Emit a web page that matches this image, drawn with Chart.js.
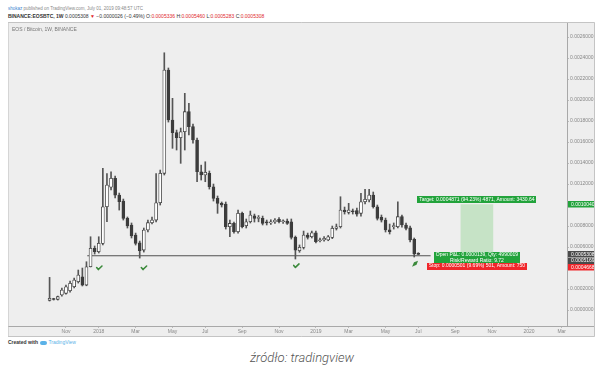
<!DOCTYPE html>
<html>
<head>
<meta charset="utf-8">
<script src="https://cdn.jsdelivr.net/npm/chart.js@4.4.0/dist/chart.umd.min.js"></script>
<style>
  body { margin: 0; width: 604px; height: 372px; background: #fff; position: relative; overflow: hidden;
         font-family: "Liberation Sans", Arial, sans-serif; }
  .hdr { position: absolute; left: 8px; white-space: nowrap; line-height: 6px; }
  #h1 { top: 6px; font-size: 4.5px; color: #888; }
  #h2 { top: 13px; font-size: 5px; color: #333; }
  #h2 .r { color: #e0272b; }
  #cv { position: absolute; left: 8px; top: 22px; }
  #made { position: absolute; left: 8px; top: 339px; font-size: 5px; color: #333; font-weight: bold; white-space: nowrap; }
  #made .logo { display: inline-block; width: 7px; height: 4px; border-radius: 2px; background: #5bb2e8; vertical-align: middle; margin: 0 1px; }
  #made .tv { color: #5bb2e8; font-weight: normal; }
  #src { position: absolute; left: 0; width: 604px; top: 350px; text-align: center; font-family: Roboto, sans-serif;
         font-style: italic; font-weight: 300; font-size: 13px; color: #555; }
</style>
</head>
<body>
<div class="hdr" id="h1"><span style="color:#3b86d1">shokaz</span> published on TradingView.com, July 01, 2019 09:48:57 UTC</div>
<div class="hdr" id="h2"><b>BINANCE:EOSBTC, 1W</b> 0.0005308 <span class="r">&#9660;</span> &minus;0.0000026 (&minus;0.49%) O:<span class="r">0.0005336</span> H:<span class="r">0.0005460</span> L:<span class="r">0.0005283</span> C:<span class="r">0.0005308</span></div>
<canvas id="cv" width="587" height="315"></canvas>
<div id="made">Created with <span class="logo"></span><span class="tv">TradingView</span></div>
<div id="src">źródło: tradingview</div>
<script>
// weekly bars, index 0 = week of 2017-10-09, last = week of 2019-07-01
const openP = [0.0000924,0.000108,0.000102,0.000143,0.000159,0.000184,0.000222,0.000270,0.000317,0.000238,
  0.000412,0.000588,0.000555,0.000635,0.000984,0.001170,0.001254,0.001095,0.001038,0.000873,
  0.000810,0.000714,0.000641,0.000571,0.000762,0.000832,0.000857,0.001022,0.001302,0.002286,
  0.001810,0.001689,0.001641,0.001698,0.001889,0.001746,0.001619,0.001317,0.001286,0.001302,
  0.001174,0.001063,0.001016,0.001010,0.000793,0.000825,0.000746,0.000921,0.000803,0.000841,
  0.000898,0.000873,0.000873,0.000841,0.000829,0.000838,0.000864,0.000841,0.000848,0.000841,
  0.000692,0.000565,0.000597,0.000714,0.000698,0.000736,0.000660,0.000667,0.000667,0.000692,
  0.000778,0.000793,0.000952,0.000930,0.000940,0.000946,0.000921,0.001031,0.001048,0.001095,
  0.000984,0.000883,0.000857,0.000765,0.000795,0.000793,0.000889,0.000810,0.000784,0.000673,
  0.0005336];
const highP = [0.000311,0.000112,0.000133,0.000210,0.000238,0.000276,0.000305,0.000381,0.000400,0.000460,
  0.000698,0.000610,0.000698,0.001350,0.001300,0.001317,0.001276,0.001114,0.001057,0.000886,
  0.000829,0.000733,0.000657,0.000781,0.000857,0.000886,0.001300,0.001333,0.002450,0.002305,
  0.002016,0.001714,0.001733,0.002064,0.001968,0.001771,0.001638,0.001380,0.001412,0.001324,
  0.001200,0.001086,0.001029,0.001029,0.000857,0.000838,0.000952,0.000933,0.000867,0.000943,
  0.000914,0.000900,0.000895,0.000857,0.000860,0.000870,0.000880,0.000860,0.000867,0.000867,
  0.000705,0.000620,0.000752,0.000733,0.000752,0.000752,0.000686,0.000700,0.000710,0.000800,
  0.000819,0.001079,0.000981,0.001016,0.000962,0.000971,0.001111,0.001150,0.001150,0.001124,
  0.001000,0.000905,0.000876,0.000819,0.000829,0.001031,0.000905,0.000829,0.000800,0.000686,
  0.000546];
const lowP = [0.0000857,0.000095,0.000095,0.000133,0.000152,0.000171,0.000210,0.000257,0.000229,0.000231,
  0.000410,0.000533,0.000543,0.000619,0.000841,0.001143,0.001067,0.000952,0.000857,0.000781,
  0.000686,0.000619,0.000495,0.000552,0.000743,0.000819,0.000838,0.001000,0.001286,0.001790,
  0.001540,0.001524,0.001397,0.001524,0.001667,0.001590,0.001222,0.001238,0.001222,0.001152,
  0.001038,0.000921,0.000981,0.000771,0.000698,0.000733,0.000733,0.000781,0.000781,0.000829,
  0.000838,0.000840,0.000810,0.000810,0.000815,0.000825,0.000830,0.000825,0.000815,0.000676,
  0.000486,0.000550,0.000581,0.000676,0.000686,0.000638,0.000648,0.000655,0.000660,0.000680,
  0.000762,0.000781,0.000914,0.000914,0.000914,0.000895,0.000895,0.001010,0.001029,0.000971,
  0.000857,0.000838,0.000743,0.000724,0.000771,0.000781,0.000790,0.000762,0.000648,0.000505,
  0.0005283];
const closeP = [0.000111,0.000100,0.000127,0.000190,0.000222,0.000254,0.000286,0.000333,0.000238,0.000412,
  0.000588,0.000555,0.000635,0.000984,0.001190,0.001254,0.001095,0.001031,0.000873,0.000800,
  0.000705,0.000635,0.000565,0.000762,0.000832,0.000857,0.001022,0.001302,0.002286,0.001810,
  0.001689,0.001641,0.001698,0.001889,0.001746,0.001619,0.001317,0.001286,0.001311,0.001174,
  0.001063,0.001016,0.001000,0.000793,0.000825,0.000746,0.000921,0.000793,0.000841,0.000905,
  0.000873,0.000876,0.000825,0.000829,0.000840,0.000857,0.000841,0.000845,0.000826,0.000692,
  0.000571,0.000597,0.000714,0.000692,0.000736,0.000650,0.000667,0.000683,0.000698,0.000778,
  0.000793,0.000952,0.000936,0.000952,0.000936,0.000914,0.001031,0.001054,0.001095,0.000984,
  0.000873,0.000857,0.000762,0.000746,0.000800,0.000889,0.000810,0.000778,0.000667,0.0005334,
  0.0005308];

const xTickIdx = [4, 12, 21, 30, 38, 47, 56, 65, 73, 82, 90, 99, 108, 117, 125];
const xTickLabels = ['Nov', '2018', 'Mar', 'May', 'Jul', 'Sep', 'Nov', '2019', 'Mar', 'May', 'Jul', 'Sep', 'Nov', '2020', 'Mar'];
const yTicks = [0, 0.0002, 0.0004, 0.0006, 0.0008, 0.0010, 0.0012, 0.0014, 0.0016, 0.0018, 0.0020, 0.0022, 0.0024, 0.0026];

// drawings on the chart
const supportLevel = 0.0005169;
const supportSpan = [9.2, 93];
const posIdx = 104.3;
const posEntry = 0.0005169, posTarget = 0.0010040, posStop = 0.0004668;
const checkIdx = [12.1, 23.0, 60.2];
const checkVal = [0.00040, 0.00040, 0.00042];
const rocketIdx = 89.2, rocketVal = 0.00044;
const tagVals = [posTarget, 0.0005308, posEntry, posStop];
const tagColors = ['#22a33b', '#4a4a4a', '#4a4a4a', '#f0262b'];

const UP = '#ffffff', DOWN = '#3c3c3c', EDGE = '#3c3c3c';
const FONT = '"Liberation Sans", Arial, sans-serif';

const bodies = openP.map((o, i) => ({ x: i, y: [o, closeP[i]] }));
const wicks = openP.map((o, i) => ({ x: i, y: [lowP[i], highP[i]] }));

const decor = {
  id: 'decor',
  beforeDraw(chart) {
    const c = chart.ctx;
    c.save();
    c.fillStyle = '#eeeeee';
    c.fillRect(0, 0, chart.width, chart.height);
    c.restore();
  },
  afterDraw(chart) {
    const c = chart.ctx, xs = chart.scales.x, ys = chart.scales.y, a = chart.chartArea;
    c.save();
    c.font = '5px ' + FONT;
    c.fillStyle = '#777';
    c.textBaseline = 'middle';
    c.textAlign = 'left';
    c.fillText('EOS / Bitcoin, 1W, BINANCE', 4, 8);

    // check marks
    c.strokeStyle = '#3b8a3b';
    c.lineWidth = 1.6;
    c.lineCap = 'round';
    c.lineJoin = 'round';
    checkIdx.forEach((v, i) => {
      const x = xs.getPixelForValue(v), y = ys.getPixelForValue(checkVal[i]);
      c.beginPath();
      c.moveTo(x - 2.5, y - 0.5);
      c.lineTo(x - 0.8, y + 1.5);
      c.lineTo(x + 2.8, y - 2);
      c.stroke();
    });
    // rocket
    const rx = xs.getPixelForValue(rocketIdx), ry = ys.getPixelForValue(rocketVal);
    c.fillStyle = '#3b8a3b';
    c.beginPath();
    c.moveTo(rx + 3, ry - 3);
    c.lineTo(rx - 1, ry - 1.5);
    c.lineTo(rx - 3, ry + 3);
    c.lineTo(rx + 1.5, ry + 1);
    c.closePath();
    c.fill();

    // position tool labels
    const cx = xs.getPixelForValue(posIdx);
    function box(lines, cy, bg) {
      c.font = '5px ' + FONT;
      const w = Math.max(...lines.map(t => c.measureText(t).width)) + 4;
      const h = lines.length * 5.5 + 1.5;
      c.fillStyle = bg;
      c.fillRect(Math.round(cx - w / 2), Math.round(cy - h / 2), Math.round(w), Math.round(h));
      c.fillStyle = '#fff';
      c.textAlign = 'center';
      lines.forEach((t, k) => c.fillText(t, cx, cy - h / 2 + 3.5 + k * 5.5));
    }
    box(['Target: 0.0004871 (94.23%) 4871, Amount: 3430.64'], ys.getPixelForValue(posTarget) - 5, '#22a33b');
    box(['Open P&L: 0.0000139, Qty: 4990019', 'Risk/Reward Ratio: 9.72'], ys.getPixelForValue(posEntry) + 2, '#22a33b');
    box(['Stop: 0.0000501 (9.69%) 501, Amount: 750'], ys.getPixelForValue(posStop) + 5, '#f0262b');

    // price tags on the right axis
    let prev = -99;
    tagVals.forEach((v, i) => {
      let y = Math.max(ys.getPixelForValue(v), prev + 6.5);
      prev = y;
      c.fillStyle = tagColors[i];
      c.fillRect(a.right + 1, Math.round(y - 3.2), 26, 6.5);
      c.fillStyle = '#fff';
      c.textAlign = 'left';
      c.fillText(v.toFixed(7), a.right + 4, y + 0.2);
    });

    // frame lines
    c.strokeStyle = '#a8a8a8';
    c.lineWidth = 1;
    c.beginPath();
    c.moveTo(0, a.bottom + 0.5);
    c.lineTo(chart.width, a.bottom + 0.5);
    c.moveTo(a.right + 0.5, 0);
    c.lineTo(a.right + 0.5, a.bottom);
    c.stroke();
    c.strokeStyle = '#c4c4c4';
    c.strokeRect(0.5, 0.5, chart.width - 1, chart.height - 1);
    c.restore();
  }
};

new Chart(document.getElementById('cv'), {
  type: 'bar',
  data: {
    datasets: [
      { data: bodies, order: 0, grouped: false, barThickness: 3, minBarLength: 1,
        backgroundColor: bodies.map(b => b.y[1] >= b.y[0] ? UP : DOWN),
        borderColor: EDGE, borderWidth: 0.8, borderSkipped: false },
      { data: wicks, order: 1, grouped: false, barThickness: 1, backgroundColor: '#555' },
      { type: 'line', data: [{ x: supportSpan[0], y: supportLevel }, { x: supportSpan[1], y: supportLevel }],
        order: 2, borderColor: '#505050', borderWidth: 1, pointRadius: 0 },
      { data: [{ x: posIdx, y: [posEntry, posTarget] }], order: 3, grouped: false, barThickness: 32,
        backgroundColor: '#c6e3c6' },
      { data: [{ x: posIdx, y: [posStop, posEntry] }], order: 3, grouped: false, barThickness: 32,
        backgroundColor: '#f2c6c6' }
    ]
  },
  options: {
    responsive: false,
    animation: false,
    layout: { padding: 0 },
    plugins: { legend: { display: false }, tooltip: { enabled: false } },
    scales: {
      x: {
        type: 'linear', min: -10.15, max: 126.29, offset: false,
        afterBuildTicks: s => { s.ticks = xTickIdx.map(v => ({ value: v })); },
        afterFit: s => { s.height = 11; s.paddingLeft = 0; s.paddingRight = 0; },
        ticks: { callback: v => xTickLabels[xTickIdx.indexOf(v)], font: { size: 5, family: FONT }, color: '#888',
                 maxRotation: 0, autoSkip: false, padding: 1 },
        grid: { offset: false, drawOnChartArea: false, tickLength: 2, color: '#bbb' },
        border: { color: '#a8a8a8' }
      },
      y: {
        position: 'right', min: -0.000152, max: 0.002743,
        afterBuildTicks: s => { s.ticks = yTicks.map(v => ({ value: v })); },
        afterFit: s => { s.width = 28; s.paddingTop = 0; s.paddingBottom = 0; },
        ticks: { callback: v => v.toFixed(7), font: { size: 5, family: FONT }, color: '#888', padding: 1 },
        grid: { drawOnChartArea: false, tickLength: 2, color: '#bbb' },
        border: { color: '#a8a8a8' }
      }
    }
  },
  plugins: [decor]
});
</script>
</body>
</html>
